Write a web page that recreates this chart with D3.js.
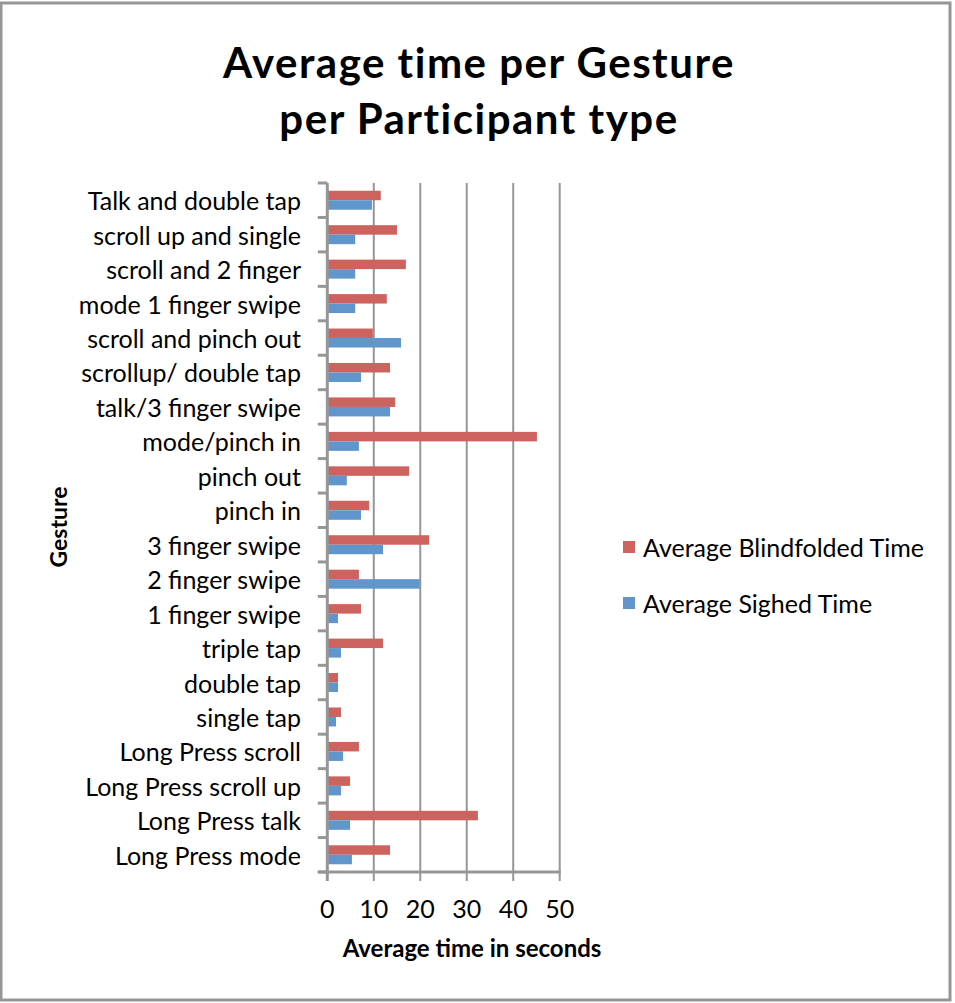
<!DOCTYPE html>
<html>
<head>
<meta charset="utf-8">
<script src="https://cdn.jsdelivr.net/npm/d3@7"></script>
<style>
  html, body { margin: 0; padding: 0; background: #fff; }
  svg { display: block; }
  text { font-family: Lato, "Open Sans", sans-serif; fill: #000; }
</style>
</head>
<body>
<svg id="chart" width="955" height="1003"></svg>
<script>
// Gestures listed top to bottom as they appear on the axis
const gestures = [
  "Talk and double tap", "scroll up and single", "scroll and 2 finger",
  "mode 1 finger swipe", "scroll and pinch out", "scrollup/ double tap",
  "talk/3 finger swipe", "mode/pinch in", "pinch out", "pinch in",
  "3 finger swipe", "2 finger swipe", "1 finger swipe", "triple tap",
  "double tap", "single tap", "Long Press scroll", "Long Press scroll up",
  "Long Press talk", "Long Press mode"
];
const blindfolded = [11.5, 15.0, 16.9, 12.8, 9.8, 13.5, 14.6, 45.1, 17.6, 9.0,
                     21.9, 6.8, 7.25, 12.0, 2.3, 2.95, 6.8, 4.9, 32.4, 13.5];
const sighted = [9.6, 6.0, 6.0, 6.0, 15.85, 7.25, 13.5, 6.8, 4.2, 7.25,
                 12.0, 19.9, 2.3, 2.95, 2.3, 1.87, 3.4, 2.95, 4.9, 5.3];
const xTicks = [0, 10, 20, 30, 40, 50];
const seriesNames = ["Average Blindfolded Time", "Average Sighed Time"];
const seriesColors = ["#CD635E", "#6096CB"];

const svg = d3.select("#chart");
const grey = "#969696";

// outer frame
svg.append("rect")
  .attr("x", 1).attr("y", 3).attr("width", 949).attr("height", 997)
  .attr("fill", "none").attr("stroke", grey).attr("stroke-width", 3);

// title
const title = svg.append("text")
  .attr("text-anchor", "middle")
  .style("font-weight", "bold").style("font-size", "42px")
  .style("letter-spacing", "1.5px");
title.append("tspan").attr("x", 479).attr("y", 78).text("Average time per Gesture");
title.append("tspan").attr("x", 479).attr("y", 134).text("per Participant type");

const x = d3.scaleLinear().domain([0, 50]).range([327.3, 559.7]);
const y = d3.scaleBand().domain(gestures).range([183, 872]);
const barH = 9.5;

// vertical gridlines
svg.append("g").selectAll("line")
  .data(xTicks.slice(1))
  .join("line")
  .attr("x1", d => x(d)).attr("x2", d => x(d))
  .attr("y1", 183).attr("y2", 872)
  .attr("stroke", grey).attr("stroke-width", 2);

// bars
const rows = gestures.map((g, i) => ({ g, b: blindfolded[i], s: sighted[i] }));
svg.append("g").selectAll("rect")
  .data(rows)
  .join("rect")
  .attr("x", x(0))
  .attr("y", d => y(d.g) + y.bandwidth() / 2 - barH)
  .attr("width", d => x(d.b) - x(0))
  .attr("height", barH)
  .attr("fill", seriesColors[0]);
svg.append("g").selectAll("rect")
  .data(rows)
  .join("rect")
  .attr("x", x(0))
  .attr("y", d => y(d.g) + y.bandwidth() / 2)
  .attr("width", d => x(d.s) - x(0))
  .attr("height", barH)
  .attr("fill", seriesColors[1]);

// category axis
const yAxis = svg.append("g").attr("transform", `translate(${x(0)},0)`);
yAxis.append("line")
  .attr("x1", 0).attr("x2", 0).attr("y1", 183).attr("y2", 872)
  .attr("stroke", grey).attr("stroke-width", 3);
const boundaries = gestures.map(g => y(g)).concat([872]);
yAxis.selectAll("line.tick")
  .data(boundaries)
  .join("line").attr("class", "tick")
  .attr("x1", -9.5).attr("x2", 0)
  .attr("y1", d => d).attr("y2", d => d)
  .attr("stroke", grey).attr("stroke-width", 3);
svg.append("g").selectAll("text")
  .data(gestures)
  .join("text")
  .attr("x", 301)
  .attr("y", d => y(d) + y.bandwidth() / 2 + 10)
  .attr("text-anchor", "end")
  .style("font-size", "25px")
  .text(d => d);

// value axis
const xAxis = svg.append("g");
xAxis.append("line")
  .attr("x1", 317.8).attr("x2", x(50) + 1).attr("y1", 872).attr("y2", 872)
  .attr("stroke", grey).attr("stroke-width", 3);
xAxis.selectAll("line.tick")
  .data(xTicks)
  .join("line").attr("class", "tick")
  .attr("x1", d => x(d)).attr("x2", d => x(d))
  .attr("y1", 872).attr("y2", 881)
  .attr("stroke", grey).attr("stroke-width", d => d === 0 ? 3 : 2);
xAxis.selectAll("text")
  .data(xTicks)
  .join("text")
  .attr("x", d => x(d)).attr("y", 918)
  .attr("text-anchor", "middle")
  .style("font-size", "25px")
  .text(d => d);

// axis titles
svg.append("text")
  .attr("x", 472).attr("y", 957)
  .attr("text-anchor", "middle")
  .style("font-weight", "bold").style("font-size", "24px")
  .text("Average time in seconds");
svg.append("text")
  .attr("transform", "translate(67,527) rotate(-90)")
  .attr("text-anchor", "middle")
  .style("font-weight", "bold").style("font-size", "23px")
  .text("Gesture");

// legend
const legend = svg.append("g");
seriesNames.forEach((name, i) => {
  const ly = 541 + i * 56;
  legend.append("rect")
    .attr("x", 623).attr("y", ly).attr("width", 12).attr("height", 12)
    .attr("fill", seriesColors[i]);
  legend.append("text")
    .attr("x", 643).attr("y", ly + 16)
    .style("font-size", "25px")
    .text(name);
});
</script>
</body>
</html>
